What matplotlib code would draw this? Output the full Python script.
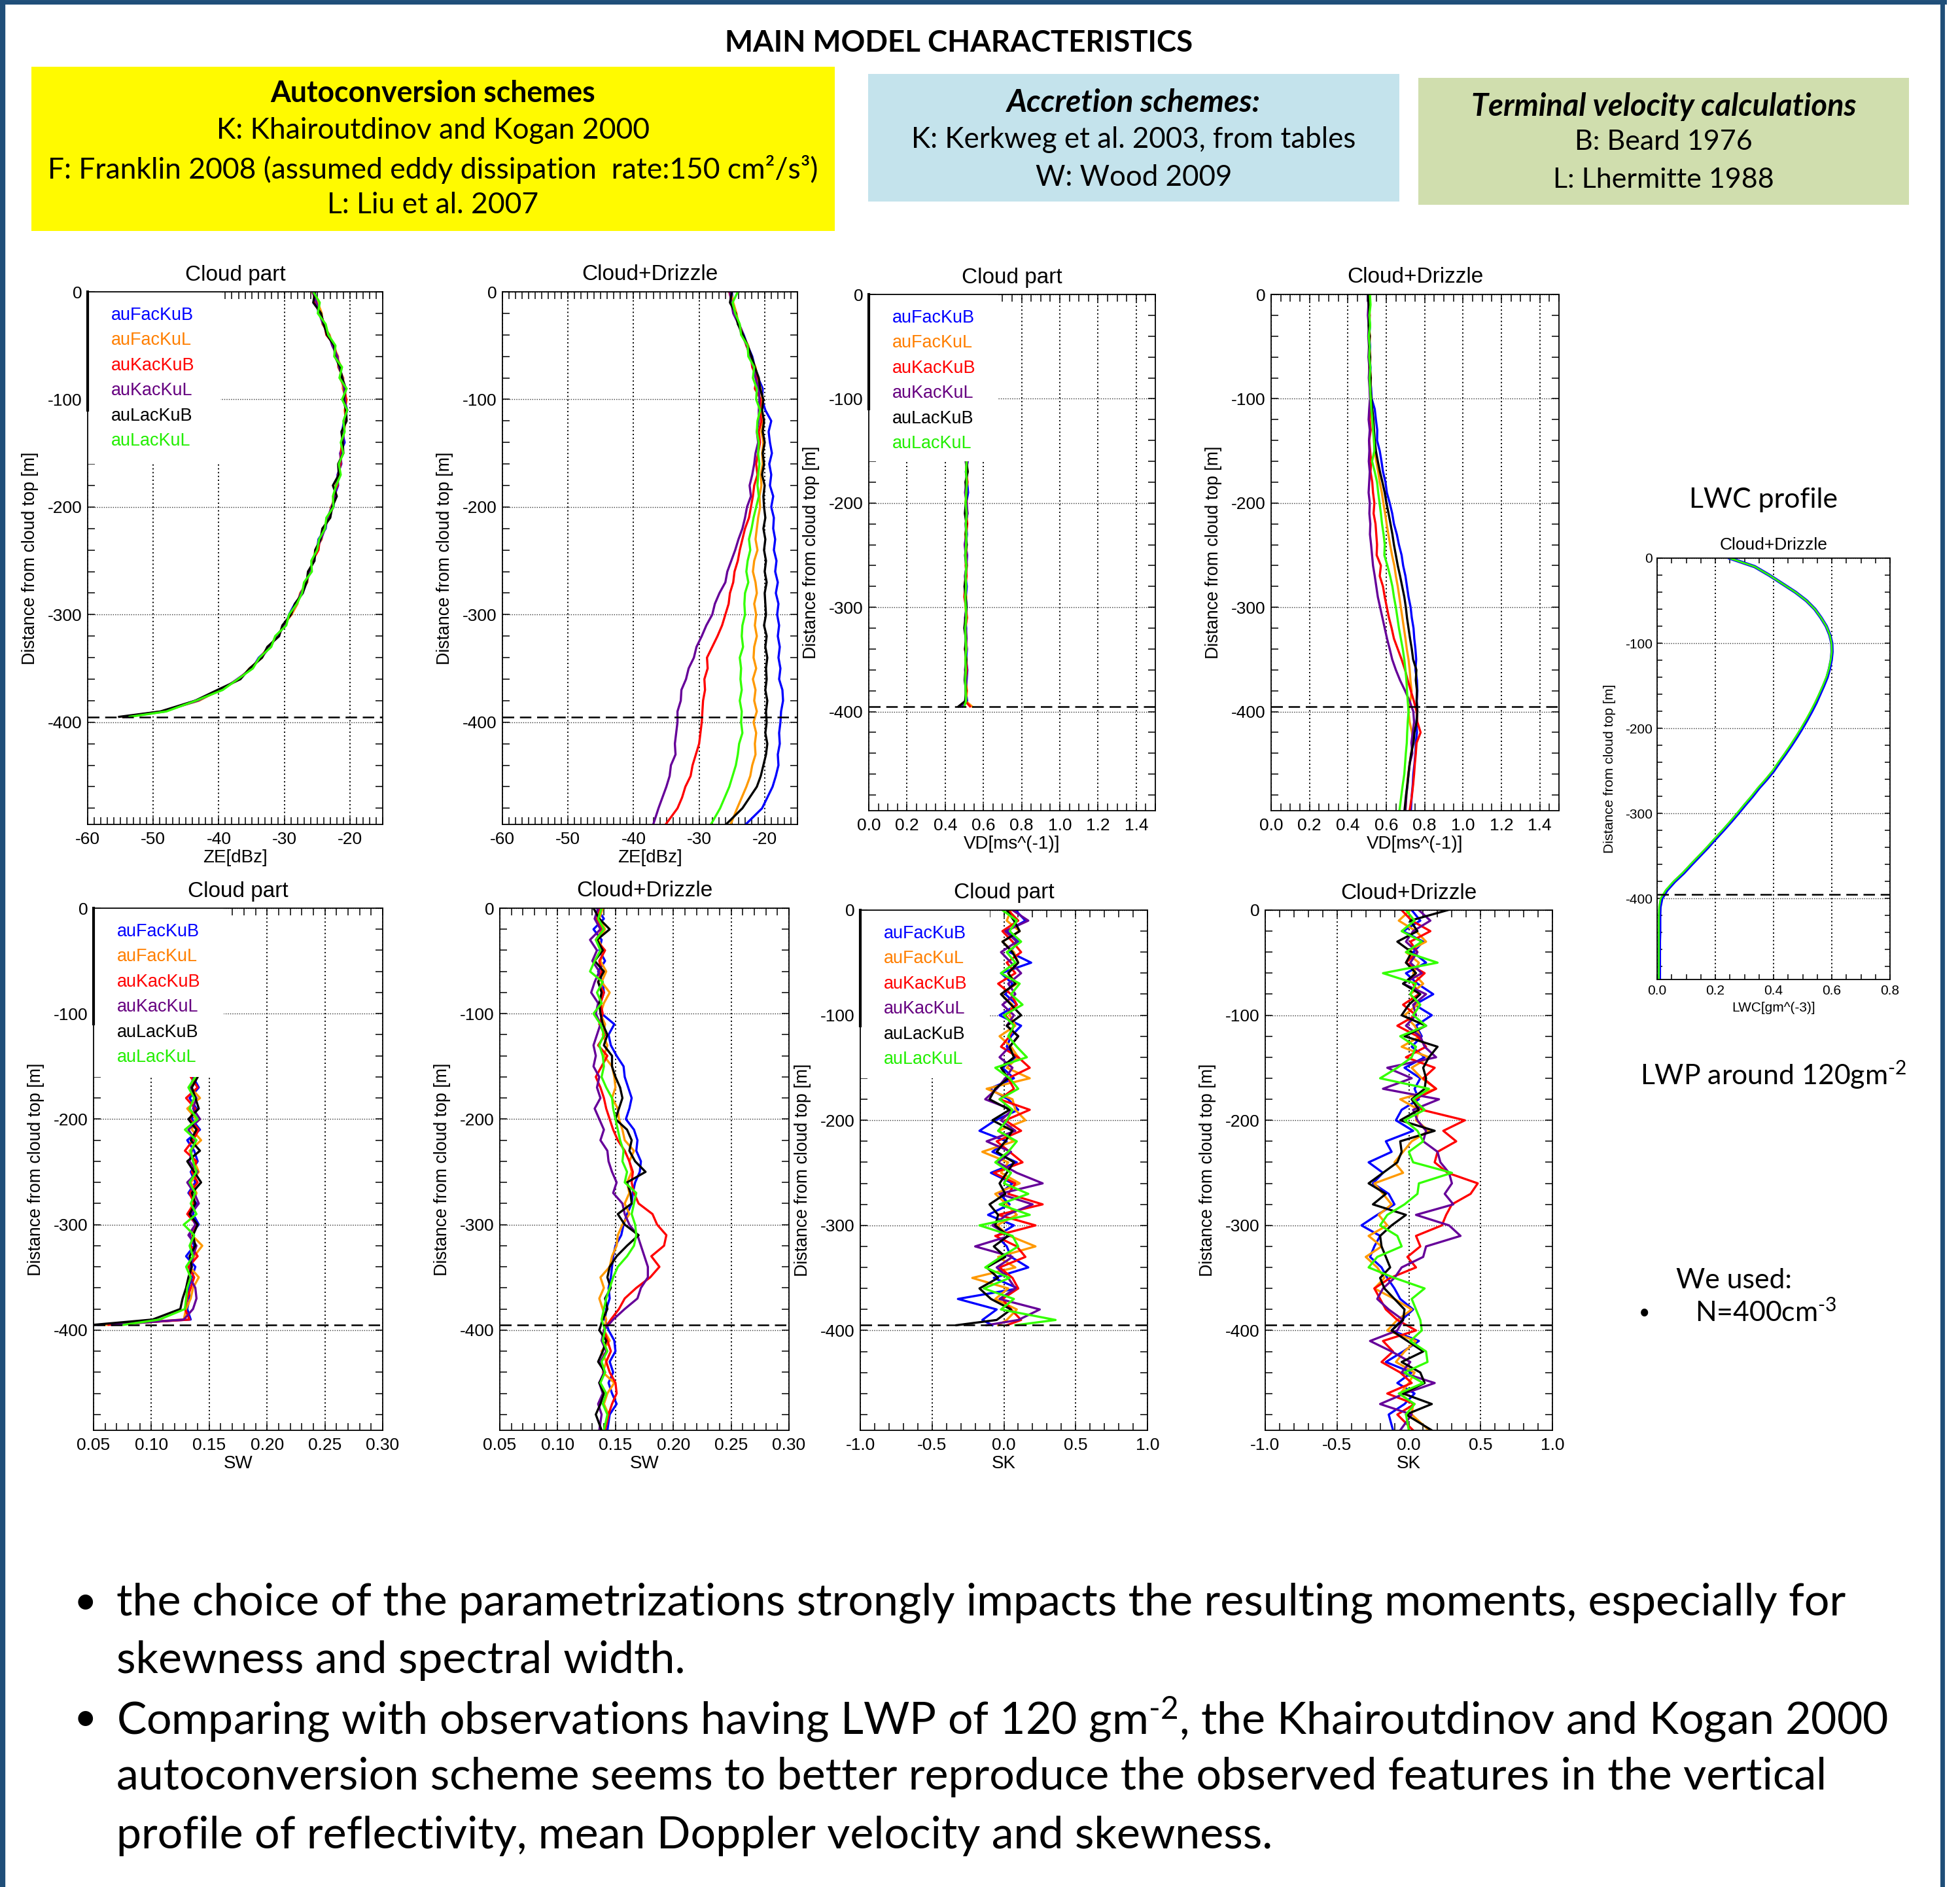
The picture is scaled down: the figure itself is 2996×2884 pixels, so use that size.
import matplotlib
matplotlib.use('Agg')
import matplotlib.pyplot as plt
from matplotlib.patches import Rectangle
from matplotlib.lines import Line2D
from matplotlib.ticker import MultipleLocator, FormatStrFormatter
from matplotlib import font_manager

plt.rcParams['font.family'] = 'Liberation Sans'
plt.rcParams['axes.unicode_minus'] = False
plt.rcParams['mathtext.fontset'] = 'custom'
plt.rcParams['mathtext.rm'] = 'Lato'
plt.rcParams['mathtext.default'] = 'regular'

names = ['auFacKuB', 'auFacKuL', 'auKacKuB', 'auKacKuL', 'auLacKuB', 'auLacKuL']
line_colors = ['#0000ff', '#ff9900', '#ff0000', '#660099', '#000000', '#33ff00']
text_colors = ['#0000ff', '#ff7f00', '#ff0000', '#660080', '#000000', '#22ee00']

# model levels, distance from cloud top [m]
z_cloud = list(range(0, -391, -10)) + [-395]
z_cloud_low = list(range(-150, -391, -10)) + [-395]
z_cd = list(range(0, -481, -10)) + [-495]
cloud_base = -395

# ---- ZE cloud part
ze_cl_FacKuB = [-25.4,-25.0,-24.8,-23.8,-23.4,-22.3,-22.2,-21.4,-21.3,-20.7,-20.9,-20.4,-20.9,-21.2,-20.8,-21.5,-21.3,-21.9,-21.8,-22.4,-22.5,-23.5,-23.7,-24.8,-25.0,-25.8,-25.9,-26.9,-27.2,-28.4,-29.3,-29.8,-31.3,-32.1,-33.9,-34.9,-37.2,-39.5,-43.6,-48.2,-54.0]
ze_cl_FacKuL = [-25.8,-24.9,-24.3,-24.2,-23.1,-22.6,-21.8,-21.8,-21.0,-21.1,-20.5,-20.8,-20.6,-21.1,-21.3,-21.1,-21.7,-21.5,-22.2,-22.1,-22.9,-23.1,-24.1,-24.3,-25.3,-25.5,-26.3,-26.5,-27.6,-28.0,-28.9,-30.2,-30.9,-32.5,-33.4,-35.3,-36.8,-39.9,-43.0,-48.8,-54.3]
ze_cl_KacKuB = [-25.5,-25.4,-24.5,-23.9,-23.6,-22.3,-22.1,-21.3,-21.5,-20.8,-20.6,-20.7,-20.7,-20.9,-21.2,-21.4,-21.4,-21.8,-21.9,-22.5,-22.6,-23.2,-24.0,-24.6,-24.8,-25.7,-26.0,-26.8,-27.3,-28.3,-29.0,-30.1,-31.0,-32.4,-33.7,-35.0,-37.1,-39.6,-43.4,-48.6,-54.6]
ze_cl_KacKuL = [-25.7,-25.1,-24.7,-24.1,-23.2,-22.7,-21.9,-21.7,-21.1,-20.9,-20.8,-20.5,-20.9,-21.0,-21.0,-21.2,-21.6,-21.6,-22.1,-22.2,-22.8,-23.4,-23.8,-24.4,-25.2,-25.5,-26.2,-26.6,-27.5,-28.1,-29.2,-29.9,-31.2,-32.2,-33.5,-35.2,-36.9,-39.8,-43.2,-48.4,-54.4]
ze_cl_LacKuB = [-25.3,-25.6,-24.4,-24.0,-23.5,-22.4,-22.3,-21.5,-21.2,-20.6,-21.0,-20.6,-20.5,-21.3,-21.1,-21.0,-21.8,-21.7,-22.6,-22.0,-22.7,-23.0,-24.2,-24.5,-25.3,-25.4,-26.4,-26.6,-27.2,-28.4,-29.0,-30.3,-30.8,-32.6,-33.4,-35.3,-36.7,-40.2,-43.6,-48.9,-55.2]
ze_cl_LacKuL = [-25.6,-24.6,-24.9,-23.7,-23.3,-22.2,-22.4,-21.2,-21.6,-20.5,-21.2,-20.4,-21.0,-20.8,-21.4,-21.0,-21.7,-21.4,-22.1,-22.6,-22.5,-23.6,-23.8,-24.7,-25.0,-25.9,-25.8,-27.0,-27.3,-28.1,-29.3,-29.7,-31.4,-32.0,-33.8,-34.8,-37.1,-39.4,-43.5,-48.0,-53.6]

# ---- ZE cloud + drizzle
ze_cd_FacKuB = [-25.0,-24.9,-24.5,-23.9,-23.2,-22.6,-21.9,-21.5,-21.0,-20.3,
                -20.4,-19.9,-19.0,-19.4,-19.2,-18.9,-19.3,-19.0,-19.2,-18.7,
                -19.0,-18.6,-18.7,-18.4,-18.6,-18.2,-18.4,-18.0,-18.3,-17.9,
                -18.1,-17.8,-18.0,-17.7,-17.9,-17.6,-17.8,-17.3,-17.2,-17.5,
                -17.6,-17.8,-17.7,-18.0,-17.9,-18.3,-18.8,-19.6,-20.4,-22.9]
ze_cd_FacKuL = [-25.2,-24.8,-24.3,-24.0,-23.4,-22.5,-22.2,-21.4,-21.1,-20.6,
                -20.4,-20.6,-20.2,-20.5,-20.2,-20.4,-20.3,-20.6,-20.5,-20.8,
                -20.7,-21.0,-21.2,-21.4,-21.1,-21.6,-21.8,-21.4,-21.2,-21.6,
                -21.3,-21.5,-21.2,-21.6,-21.7,-21.3,-21.8,-21.4,-21.6,-21.2,
                -21.7,-21.3,-21.5,-21.4,-21.9,-22.2,-22.8,-23.5,-24.2,-25.2]
ze_cd_KacKuB = [-25.4,-25.0,-24.6,-23.9,-23.3,-22.8,-22.1,-21.9,-21.2,-21.5,
                -20.6,-20.8,-20.5,-20.9,-20.7,-21.0,-21.3,-21.1,-21.6,-21.8,
                -22.1,-22.4,-23.0,-23.4,-23.8,-24.1,-24.6,-24.8,-25.3,-25.5,
                -26.0,-26.5,-27.2,-28.0,-28.8,-28.7,-29.2,-29.1,-29.4,-29.5,
                -29.6,-29.8,-30.0,-30.5,-31.0,-31.3,-32.1,-32.6,-33.3,-35.1]
ze_cd_KacKuL = [-25.3,-25.1,-24.8,-24.0,-23.5,-22.7,-22.3,-21.7,-21.4,-20.9,
                -20.8,-20.9,-20.9,-21.2,-21.0,-21.4,-21.6,-21.9,-22.3,-22.1,
                -22.7,-23.0,-23.4,-24.0,-24.5,-25.1,-25.7,-26.0,-26.9,-27.6,
                -28.0,-28.9,-29.6,-30.4,-30.8,-31.6,-32.0,-32.7,-32.8,-33.3,
                -33.3,-33.5,-33.7,-33.6,-34.3,-34.5,-35.0,-35.6,-36.2,-37.0]
ze_cd_LacKuB = [-25.0,-25.3,-24.4,-24.1,-23.3,-22.6,-22.0,-21.5,-20.9,-20.7,
                -20.2,-20.4,-20.1,-20.3,-20.0,-20.3,-20.1,-20.4,-20.0,-20.2,
                -20.1,-19.9,-20.2,-19.9,-20.1,-19.8,-20.0,-19.7,-20.0,-19.9,
                -19.8,-20.1,-19.7,-19.9,-19.6,-19.8,-19.7,-19.9,-19.6,-19.8,
                -19.7,-19.9,-19.6,-19.8,-20.2,-20.6,-21.2,-22.3,-23.4,-25.9]
ze_cd_LacKuL = [-24.1,-24.9,-24.5,-23.8,-23.6,-22.6,-22.5,-21.6,-21.8,-21.2,
                -21.3,-20.7,-21.1,-21.2,-20.9,-21.0,-20.8,-21.0,-21.1,-20.9,
                -21.3,-21.7,-22.0,-22.4,-22.2,-22.6,-22.8,-22.5,-23.0,-23.1,
                -23.0,-23.4,-23.5,-23.3,-23.8,-23.6,-23.7,-23.5,-23.8,-23.5,
                -23.6,-23.4,-23.9,-24.1,-24.4,-24.9,-25.4,-26.1,-26.8,-28.2]

# ---- VD cloud part (levels z_cloud_low)
vd_cl_FacKuB = [0.512,0.518,0.508,0.515,0.520,0.510,0.516,0.509,0.514,0.507,0.515,0.511,0.506,0.513,0.508,0.512,0.505,0.510,0.507,0.514,0.509,0.516,0.512,0.508,0.515,0.49]
vd_cl_FacKuL = [0.515,0.510,0.517,0.508,0.513,0.506,0.511,0.516,0.505,0.512,0.509,0.514,0.507,0.502,0.510,0.506,0.513,0.503,0.509,0.511,0.505,0.512,0.507,0.514,0.509,0.54]
vd_cl_KacKuB = [0.510,0.514,0.509,0.517,0.506,0.513,0.508,0.515,0.510,0.504,0.511,0.507,0.512,0.505,0.500,0.509,0.514,0.506,0.511,0.504,0.510,0.513,0.508,0.511,0.505,0.53]
vd_cl_KacKuL = [0.513,0.507,0.515,0.510,0.504,0.512,0.517,0.506,0.511,0.502,0.508,0.513,0.503,0.509,0.506,0.511,0.504,0.508,0.512,0.506,0.509,0.504,0.511,0.506,0.512,0.48]
vd_cl_LacKuB = [0.516,0.511,0.518,0.506,0.512,0.508,0.503,0.511,0.507,0.513,0.504,0.510,0.508,0.501,0.507,0.512,0.506,0.500,0.508,0.504,0.511,0.506,0.502,0.509,0.504,0.47]
vd_cl_LacKuL = [0.514,0.512,0.509,0.513,0.510,0.507,0.512,0.508,0.511,0.509,0.506,0.510,0.507,0.509,0.505,0.508,0.510,0.505,0.507,0.509,0.506,0.508,0.505,0.507,0.509,0.50]

# ---- VD cloud + drizzle
vd_cd_FacKuB = [.508,.512,.510,.515,.511,.516,.513,.518,.516,.521,
                .524,.540,.546,.553,.552,.566,.575,.583,.596,.603,
                .618,.631,.640,.655,.666,.680,.688,.700,.708,.716,
                .727,.733,.742,.746,.752,.756,.752,.760,.762,.759,
                .762,.757,.760,.754,.752,.747,.741,.738,.733,.728]
vd_cd_FacKuL = [.510,.507,.513,.510,.515,.512,.517,.515,.520,.517,
                .521,.524,.530,.534,.536,.540,.548,.558,.566,.577,
                .585,.594,.602,.611,.620,.630,.642,.650,.660,.668,
                .676,.684,.692,.700,.707,.716,.722,.726,.732,.725,
                .716,.722,.734,.739,.730,.722,.714,.709,.705,.700]
vd_cd_KacKuB = [.512,.509,.514,.511,.513,.510,.515,.512,.516,.514,
                .518,.517,.514,.519,.511,.516,.521,.518,.527,.531,
                .538,.534,.544,.548,.552,.550,.572,.566,.583,.592,
                .603,.614,.628,.640,.660,.680,.698,.712,.728,.744,
                .758,.762,.779,.758,.754,.749,.745,.740,.734,.722]
vd_cd_KacKuL = [.503,.507,.504,.509,.506,.510,.507,.512,.509,.513,
                .515,.511,.508,.514,.510,.512,.509,.514,.511,.508,
                .514,.512,.517,.515,.521,.526,.531,.540,.548,.556,
                .568,.580,.592,.604,.618,.631,.650,.672,.698,.722,
                .741,.745,.738,.731,.736,.722,.716,.711,.705,.700]
vd_cd_LacKuB = [.506,.509,.512,.508,.514,.511,.516,.514,.519,.517,
                .522,.527,.533,.536,.540,.546,.556,.567,.580,.592,
                .601,.612,.622,.632,.640,.650,.660,.672,.683,.694,
                .702,.708,.716,.724,.733,.740,.757,.754,.760,.758,
                .762,.758,.747,.742,.730,.722,.716,.710,.703,.695]
vd_cd_LacKuL = [.515,.518,.512,.516,.509,.514,.511,.517,.513,.516,
                .519,.522,.527,.531,.536,.538,.526,.540,.552,.558,
                .565,.572,.578,.586,.592,.590,.606,.620,.632,.640,
                .650,.658,.666,.676,.686,.694,.700,.705,.708,.712,
                .716,.712,.709,.707,.702,.698,.694,.686,.679,.669]

# ---- SW cloud part (levels z_cloud_low)
sw_cl_FacKuB = [.138,.136,.141,.133,.139,.135,.142,.131,.137,.140,.134,.138,.132,.139,.136,.141,.133,.137,.130,.138,.135,.132,.133,.131,.134,.054]
sw_cl_FacKuL = [.136,.140,.134,.142,.131,.139,.135,.143,.133,.137,.141,.134,.139,.136,.132,.140,.135,.144,.137,.133,.141,.136,.134,.130,.128,.060]
sw_cl_KacKuB = [.139,.134,.140,.130,.138,.133,.141,.136,.129,.139,.135,.140,.133,.137,.131,.139,.136,.134,.140,.132,.137,.134,.131,.129,.133,.063]
sw_cl_KacKuL = [.141,.137,.133,.139,.136,.142,.132,.138,.135,.133,.140,.131,.137,.141,.134,.138,.132,.139,.136,.134,.133,.138,.139,.136,.128,.066]
sw_cl_LacKuB = [.137,.140,.135,.138,.141,.132,.139,.134,.142,.131,.137,.143,.135,.138,.133,.140,.136,.138,.133,.135,.132,.130,.127,.125,.101,.050]
sw_cl_LacKuL = [.135,.138,.132,.137,.133,.140,.129,.139,.134,.136,.139,.133,.138,.134,.139,.128,.137,.133,.136,.130,.134,.131,.130,.129,.107,.076]

# ---- SW cloud + drizzle
sw_cd_FacKuB = [.134,.140,.131,.138,.136,.141,.135,.139,.140,.137,
                .138,.149,.144,.146,.151,.157,.158,.161,.164,.162,
                .159,.166,.169,.168,.172,.171,.167,.165,.164,.160,
                .157,.155,.150,.148,.147,.146,.144,.145,.142,.141,
                .144,.149,.150,.145,.148,.144,.147,.151,.145,.143]
sw_cd_FacKuL = [.139,.136,.141,.135,.140,.137,.142,.138,.145,.140,
                .137,.141,.139,.143,.140,.147,.149,.150,.147,.152,
                .153,.156,.158,.166,.162,.164,.160,.162,.158,.162,
                .156,.152,.151,.147,.145,.137,.140,.136,.139,.142,
                .140,.145,.138,.142,.139,.149,.143,.140,.144,.141]
sw_cd_KacKuB = [.137,.134,.139,.133,.141,.136,.138,.135,.140,.137,
                .139,.136,.141,.135,.143,.138,.133,.137,.140,.142,
                .145,.148,.152,.158,.162,.165,.164,.166,.170,.182,
                .186,.194,.192,.181,.188,.180,.168,.158,.153,.146,
                .140,.143,.146,.142,.145,.150,.151,.147,.144,.141]
sw_cd_KacKuL = [.135,.132,.137,.128,.134,.130,.136,.132,.129,.135,
                .133,.137,.134,.131,.133,.131,.136,.134,.137,.132,
                .136,.140,.137,.143,.144,.147,.151,.148,.156,.158,
                .162,.169,.172,.175,.178,.178,.172,.169,.158,.148,
                .140,.138,.142,.137,.140,.136,.139,.135,.138,.136]
sw_cd_LacKuB = [.131,.136,.145,.134,.139,.132,.140,.135,.138,.136,
                .137,.139,.143,.140,.147,.147,.150,.154,.156,.153,
                .150,.160,.164,.162,.167,.176,.160,.163,.164,.152,
                .158,.170,.160,.151,.145,.143,.146,.141,.143,.139,
                .136,.142,.139,.135,.141,.136,.140,.137,.133,.138]
sw_cd_LacKuL = [.138,.135,.140,.133,.137,.132,.128,.139,.134,.138,
                .131,.137,.140,.136,.139,.140,.138,.142,.147,.148,
                .150,.152,.154,.157,.156,.160,.158,.168,.166,.164,
                .167,.168,.166,.160,.152,.148,.145,.142,.140,.138,
                .141,.139,.143,.138,.141,.137,.142,.139,.143,.140]

# ---- SK cloud part
sk_cl_FacKuB = [0.08,0.15,0.02,0.10,0.04,0.19,-0.02,0.06,0.01,0.09,-0.03,0.12,0.05,0.02,0.08,-0.01,0.07,-0.10,0.03,0.10,-0.06,-0.17,0.02,-0.08,0.09,-0.09,0.06,-0.03,0.04,-0.11,0.07,-0.05,0.02,0.05,0.17,-0.07,0.10,-0.32,-0.05,-0.15,-0.08]
sk_cl_FacKuL = [0.05,0.02,0.11,-0.01,0.07,0.10,0.03,0.09,-0.02,0.06,0.04,0.08,-0.03,0.05,0.10,0.02,0.18,-0.12,0.06,0.08,0.15,-0.04,0.07,-0.15,0.03,-0.02,0.11,-0.06,0.02,0.09,-0.05,0.04,0.22,-0.04,0.08,-0.22,0.03,-0.06,0.09,0.02,-0.04]
sk_cl_KacKuB = [0.03,0.10,-0.01,0.06,0.12,0.02,0.08,-0.04,0.05,0.09,0.01,0.07,0.04,-0.02,0.10,0.18,0.03,0.07,-0.03,0.18,0.01,0.12,-0.05,0.04,0.13,-0.07,0.08,0.03,0.27,-0.04,0.22,-0.06,0.09,0.15,-0.03,0.06,0.10,-0.01,0.05,0.12,0.02]
sk_cl_KacKuL = [0.06,0.17,0.01,0.09,-0.02,0.05,0.12,0.03,0.08,-0.01,0.07,0.02,0.10,0.04,-0.03,0.06,0.01,-0.05,-0.13,0.06,-0.02,0.08,-0.12,0.05,-0.04,0.09,0.27,-0.03,0.20,0.02,-0.08,0.04,-0.20,0.06,-0.05,0.03,0.08,-0.03,0.25,0.10,-0.12]
sk_cl_LacKuB = [0.02,0.07,0.11,-0.01,0.06,0.10,0.03,0.08,-0.02,0.05,0.12,0.02,0.10,0.04,0.07,-0.02,0.03,-0.06,-0.10,0.04,-0.08,0.06,0.01,-0.05,0.07,0.02,-0.03,0.01,-0.10,-0.04,-0.06,0.03,-0.07,0.01,-0.12,-0.04,-0.17,-0.09,0.05,-0.05,-0.33]
sk_cl_LacKuL = [-0.01,0.09,0.04,0.12,0.02,0.08,-0.02,0.11,0.05,0.13,0.00,0.07,0.03,0.09,0.16,-0.06,0.04,0.10,-0.03,0.06,0.02,-0.04,0.09,0.03,-0.06,0.05,0.00,0.17,-0.03,0.18,-0.17,0.06,0.10,-0.02,-0.13,0.04,-0.14,0.07,-0.02,0.36,0.08]

# ---- SK cloud + drizzle
sk_cd_FacKuB = [0.02,0.08,-0.04,0.10,0.03,0.12,-0.02,0.06,0.17,0.04,
                0.16,0.05,0.09,0.02,0.11,-0.03,0.08,0.04,0.07,-0.05,
                -0.09,0.03,-0.16,-0.12,-0.28,-0.18,-0.25,-0.14,-0.10,-0.22,
                -0.33,-0.20,-0.24,-0.27,-0.19,-0.15,-0.10,-0.06,0.03,-0.05,
                -0.12,0.07,-0.04,-0.16,0.02,-0.08,0.04,-0.03,-0.14,-0.11]
sk_cd_FacKuL = [0.01,-0.07,0.05,0.12,-0.02,0.07,0.03,0.10,0.01,0.06,
                -0.03,0.04,0.08,-0.05,0.14,0.02,0.09,0.19,-0.06,0.07,
                0.05,0.14,0.02,-0.04,-0.10,-0.04,-0.24,-0.18,-0.12,-0.21,
                -0.15,-0.28,-0.19,-0.30,-0.22,-0.17,-0.24,-0.10,0.02,-0.08,
                -0.15,0.05,-0.03,-0.09,0.04,0.00,-0.06,0.03,0.02,0.14]
sk_cd_KacKuB = [-0.05,0.02,0.15,0.01,0.06,-0.02,0.11,0.03,0.07,-0.04,
                0.05,-0.08,0.06,0.12,-0.02,0.18,0.10,0.19,0.04,0.09,
                0.39,0.24,0.33,0.20,0.18,0.27,0.48,0.43,0.30,0.26,
                0.23,0.05,0.08,-0.01,0.05,-0.13,-0.24,-0.20,-0.16,-0.08,
                0.05,-0.18,-0.11,-0.19,-0.06,0.02,-0.15,0.04,-0.08,0.03]
sk_cd_KacKuL = [0.07,0.15,0.03,-0.02,0.06,0.01,0.09,-0.04,0.12,0.03,
                0.05,-0.02,0.08,0.11,0.19,-0.15,0.02,-0.18,0.21,0.03,
                0.06,0.12,0.10,0.20,0.22,0.28,0.30,0.25,0.31,0.05,
                0.28,0.36,0.12,0.10,-0.05,-0.10,-0.18,-0.22,-0.14,-0.04,
                -0.08,-0.27,-0.12,0.01,-0.05,0.18,-0.03,-0.20,0.02,-0.06]
sk_cd_LacKuB = [0.27,0.01,0.06,-0.08,0.02,-0.02,0.05,-0.04,0.08,0.00,
                -0.05,0.12,-0.03,0.20,0.14,0.10,0.12,0.11,0.02,0.07,
                -0.06,0.18,-0.06,-0.05,-0.08,-0.18,-0.28,-0.16,-0.25,-0.02,
                -0.12,-0.20,-0.19,-0.16,-0.13,-0.20,-0.17,-0.10,-0.03,-0.04,
                -0.12,-0.01,0.10,-0.05,0.08,0.11,-0.04,0.16,-0.02,0.16]
sk_cd_LacKuL = [-0.02,0.04,-0.05,0.09,-0.02,0.20,-0.18,0.05,0.01,0.08,
                0.03,0.12,-0.06,0.05,0.02,-0.08,-0.20,0.14,0.03,0.11,
                -0.03,0.06,0.10,0.00,0.03,0.30,0.07,0.06,-0.03,-0.15,
                -0.20,-0.08,-0.05,-0.22,-0.28,-0.10,0.11,0.02,0.05,0.08,
                0.09,0.01,0.12,0.13,-0.03,0.10,-0.07,0.04,-0.02,0.00]

# ---- LWC profile (cloud + drizzle)
lwc_FacKuB = [.249,.335,.385,.430,.475,.513,.542,.563,.581,.593,
              .600,.601,.598,.592,.584,.572,.559,.546,.531,.515,
              .498,.480,.461,.441,.420,.400,.376,.350,.327,.302,
              .278,.253,.227,.200,.174,.146,.118,.091,.060,.034,
              .016,.010,.009,.009,.009,.008,.008,.008,.008,.008]
lwc_LacKuL = [.249,.335,.385,.430,.475,.513,.542,.563,.581,.593,
              .599,.600,.596,.590,.581,.569,.556,.542,.527,.511,
              .494,.476,.457,.437,.416,.396,.372,.346,.323,.298,
              .274,.249,.223,.196,.170,.142,.114,.087,.056,.030,
              .012,.007,.006,.006,.006,.006,.006,.006,.006,.006]

W, H = 2996, 2884
fig = plt.figure(figsize=(W / 100, H / 100), dpi=100)
renderer = fig.canvas.get_renderer()

avail = {f.name for f in font_manager.fontManager.ttflist}
narrow = 'Liberation Sans Narrow' if 'Liberation Sans Narrow' in avail else 'Liberation Sans'
poster = 'Lato'


def fit(s, width, **kw):
    # font size that makes s about width pixels wide
    t = fig.text(0, 0, s, fontsize=40, **kw)
    bw = t.get_window_extent(renderer).width
    t.remove()
    return 40 * width / bw


def ptext(x, y, s, size, ha='center', **kw):
    return fig.text(x / W, 1 - y / H, s, fontsize=size, family=poster,
                    ha=ha, va='center', **kw)


ylab = 'Distance from cloud top [m]'
ylab_fs = fit(ylab, 326, family=narrow)
ylab_fs_small = fit(ylab, 259, family=narrow)
leg_fs = fit('auFacKuB', 126)


def panel(box, z, series, title, xlab, xlim, major, minor, fmt, legend=False,
          small=False, lw=2.4):
    x0, y0, x1, y1 = box
    w, h = x1 - x0, y1 - y0
    ax = fig.add_axes([x0 / W, 1 - y1 / H, w / W, h / H])
    widths = [3.6, 2.0] if small else [lw] * 6
    for vals, c, lwi in zip(series, line_colors, widths):
        ax.plot(vals, z[:len(vals)], color=c, lw=lwi)
    ax.axhline(cloud_base, color='k', lw=1.8, ls=(0, (7, 3.5)), zorder=2.4)
    ax.set_xlim(xlim)
    ax.set_ylim(-495, 0)
    ax.xaxis.set_major_locator(MultipleLocator(major))
    ax.xaxis.set_minor_locator(MultipleLocator(minor))
    ax.xaxis.set_major_formatter(FormatStrFormatter(fmt))
    ax.yaxis.set_major_locator(MultipleLocator(100))
    ax.yaxis.set_minor_locator(MultipleLocator(20))
    ax.grid(True, axis='x', which='major', color='k', ls=(0, (1, 2)), lw=1.4)
    ax.grid(True, axis='y', which='major', color='#333333', ls=(0, (1, 1.5)), lw=1.0)
    tfs = 15 if small else 19
    tl = 6 if small else 8
    ax.tick_params(which='both', direction='in', top=True, right=True,
                   length=tl, width=1.1, labelsize=tfs)
    ax.tick_params(axis='x', pad=6 if small else 8)
    ax.tick_params(axis='y', pad=5 if small else 6)
    for sp in ax.spines.values():
        sp.set_linewidth(1.3)
    ax.text(0.5, 1 + (20 if small else 26) / h, title, transform=ax.transAxes,
            ha='center', va='center', fontsize=19 if small else 24)
    ax.set_xlabel(xlab, fontsize=15 if small else 20, va='center')
    ax.xaxis.set_label_coords(0.5, -(44 if small else 51) / h)
    ax.set_ylabel(ylab, family=narrow, fontsize=ylab_fs_small if small else ylab_fs,
                  va='center')
    ax.yaxis.set_label_coords(-(73 if small else 88) / w, 0.5)
    if legend:
        ax.add_patch(Rectangle((0, 1 - 160 / 495), 0.45, 160 / 495, transform=ax.transAxes,
                               facecolor='white', edgecolor='none', zorder=2.3))
        ax.plot([0, 0], [1, 1 - 110 / 495], transform=ax.transAxes, color='k',
                lw=3, zorder=2.6, clip_on=False)
        for i, (nm, c) in enumerate(zip(names, text_colors)):
            ax.text(36 / w, 1 - (36 + 38.4 * i) / h, nm, color=c, fontsize=leg_fs,
                    ha='left', va='center', transform=ax.transAxes, zorder=3)
    return ax


panel((134, 446, 585, 1260), z_cloud,
      [ze_cl_FacKuB, ze_cl_FacKuL, ze_cl_KacKuB, ze_cl_KacKuL, ze_cl_LacKuB, ze_cl_LacKuL],
      'Cloud part', 'ZE[dBz]', (-60, -15), 10, 1, '%d', legend=True)
panel((768, 446, 1219, 1260), z_cd,
      [ze_cd_FacKuB, ze_cd_FacKuL, ze_cd_KacKuB, ze_cd_KacKuL, ze_cd_LacKuB, ze_cd_LacKuL],
      'Cloud+Drizzle', 'ZE[dBz]', (-60, -15), 10, 1, '%d')
panel((1328, 450, 1766, 1239), z_cloud_low,
      [vd_cl_FacKuB, vd_cl_FacKuL, vd_cl_KacKuB, vd_cl_KacKuL, vd_cl_LacKuB, vd_cl_LacKuL],
      'Cloud part', 'VD[ms^(-1)]', (0, 1.5), 0.2, 0.05, '%.1f', legend=True)
panel((1943, 450, 2383, 1239), z_cd,
      [vd_cd_FacKuB, vd_cd_FacKuL, vd_cd_KacKuB, vd_cd_KacKuL, vd_cd_LacKuB, vd_cd_LacKuL],
      'Cloud+Drizzle', 'VD[ms^(-1)]', (0, 1.5), 0.2, 0.05, '%.1f')
panel((143, 1388, 585, 2186), z_cloud_low,
      [sw_cl_FacKuB, sw_cl_FacKuL, sw_cl_KacKuB, sw_cl_KacKuL, sw_cl_LacKuB, sw_cl_LacKuL],
      'Cloud part', 'SW', (0.05, 0.30), 0.05, 0.01, '%.2f', legend=True)
panel((764, 1388, 1206, 2186), z_cd,
      [sw_cd_FacKuB, sw_cd_FacKuL, sw_cd_KacKuB, sw_cd_KacKuL, sw_cd_LacKuB, sw_cd_LacKuL],
      'Cloud+Drizzle', 'SW', (0.05, 0.30), 0.05, 0.01, '%.2f')
panel((1315, 1391, 1754, 2186), z_cloud,
      [sk_cl_FacKuB, sk_cl_FacKuL, sk_cl_KacKuB, sk_cl_KacKuL, sk_cl_LacKuB, sk_cl_LacKuL],
      'Cloud part', 'SK', (-1, 1), 0.5, 0.1, '%.1f', legend=True)
panel((1934, 1391, 2373, 2186), z_cd,
      [sk_cd_FacKuB, sk_cd_FacKuL, sk_cd_KacKuB, sk_cd_KacKuL, sk_cd_LacKuB, sk_cd_LacKuL],
      'Cloud+Drizzle', 'SK', (-1, 1), 0.5, 0.1, '%.1f')
lwc_ax = panel((2533, 853, 2889, 1497), z_cd, [lwc_FacKuB, lwc_LacKuL],
               'Cloud+Drizzle', 'LWC[gm^(-3)]', (0, 0.8), 0.2, 0.05, '%.1f', small=True)
lwc_ax.lines[1].set_color(line_colors[5])

# ---- header boxes
fig.patches.append(Rectangle((48 / W, 1 - 353 / H), (1276 - 48) / W, (353 - 102) / H,
                             transform=fig.transFigure, facecolor='#fffa00', edgecolor='none'))
fig.patches.append(Rectangle((1327 / W, 1 - 308 / H), (2139 - 1327) / W, (308 - 113) / H,
                             transform=fig.transFigure, facecolor='#c4e3ec', edgecolor='none'))
fig.patches.append(Rectangle((2168 / W, 1 - 313 / H), (2918 - 2168) / W, (313 - 119) / H,
                             transform=fig.transFigure, facecolor='#d0deae', edgecolor='none'))

title = 'MAIN MODEL CHARACTERISTICS'
ptext(1466, 66, title, fit(title, 716, family=poster, weight='bold'), weight='bold')

yl = 'F: Franklin 2008 (assumed eddy dissipation  rate:150 cm\u00b2/s\u00b3)'
fy = fit(yl, 1176, family=poster)
fyb = fit('Autoconversion schemes', 497, family=poster, weight='bold')
ptext(662, 143, 'Autoconversion schemes', fyb, weight='bold')
ptext(662, 200, 'K: Khairoutdinov and Kogan 2000', fy)
ptext(662, 259, yl, fy)
ptext(662, 314, 'L: Liu et al. 2007', fy)

fb = fit('K: Kerkweg et al. 2003, from tables', 678, family=poster)
fbb = fit('Accretion schemes:', 387, family=poster, weight='bold', style='italic')
ptext(1733, 157, 'Accretion schemes:', fbb, weight='bold', style='italic')
ptext(1733, 213, 'K: Kerkweg et al. 2003, from tables', fb)
ptext(1733, 271, 'W: Wood 2009', fb)

fg = fit('L: Lhermitte 1988', 338, family=poster)
fgb = fit('Terminal velocity calculations', 587, family=poster, weight='bold', style='italic')
ptext(2543, 163, 'Terminal velocity calculations', fgb, weight='bold', style='italic')
ptext(2543, 217, 'B: Beard 1976', fg)
ptext(2543, 275, 'L: Lhermitte 1988', fg)

# ---- side notes
lwp = 'LWP around 120gm$^{\\text{-2}}$'
fs_side = fit(lwp, 407, family=poster)
ptext(2695, 764, 'LWC profile', fs_side)
ptext(2507, 1643, lwp, fs_side, ha='left')
ptext(2562, 1957, 'We used:', fs_side, ha='left')
ptext(2514, 2006, '\u2022', fs_side * 0.7)
ptext(2591, 2006, 'N=400cm$^{\\text{-3}}$', fs_side, ha='left')

# ---- conclusions
lines = ['the choice of the parametrizations strongly impacts the resulting moments, especially for',
         'skewness and spectral width.',
         'Comparing with observations having LWP of 120 gm$^{\\text{-2}}$, the Khairoutdinov and Kogan 2000',
         'autoconversion scheme seems to better reproduce the observed features in the vertical',
         'profile of reflectivity, mean Doppler velocity and skewness.']
line_y = [2450, 2538, 2628, 2716, 2806]
fs_big = min(fit(lines[0], 2701, family=poster), fit(lines[2], 2707, family=poster))
for s, y in zip(lines, line_y):
    ptext(178, y, s, fs_big, ha='left')
for y in (line_y[0], line_y[2]):
    ptext(130, y, '\u2022', fs_big * 0.9)

# ---- poster frame
edge = '#1f4e79'
fig.add_artist(Line2D([4 / W, 4 / W], [0, 1], color=edge, lw=6, transform=fig.transFigure))
fig.add_artist(Line2D([0, 2972 / W], [1 - 3 / H, 1 - 3 / H], color=edge, lw=5,
                      transform=fig.transFigure))
fig.add_artist(Line2D([2969 / W, 2969 / W], [0, 1], color=edge, lw=5, transform=fig.transFigure))

fig.savefig('out.png', dpi=100)
